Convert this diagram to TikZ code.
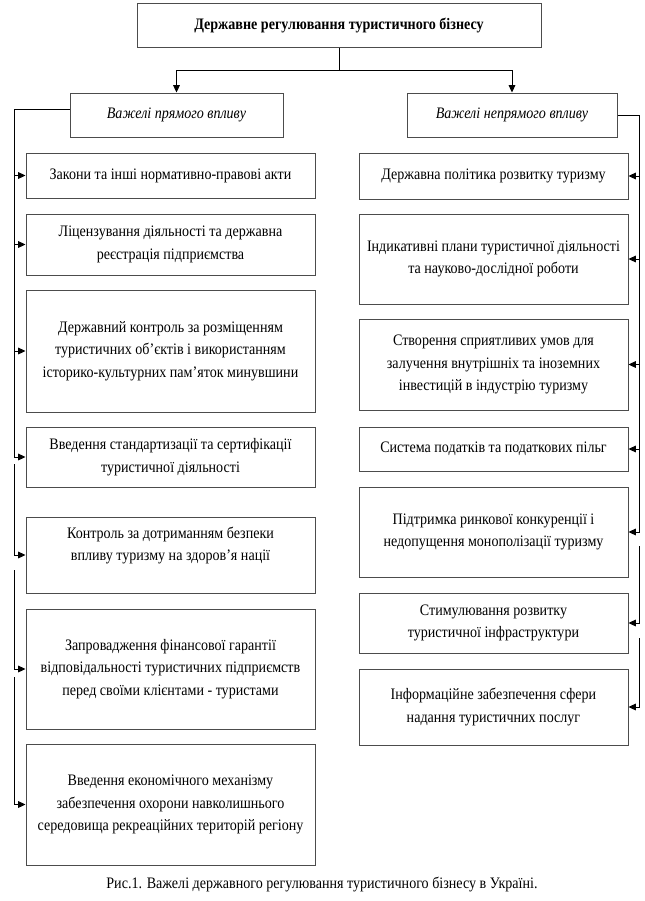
\documentclass[tikz,border=0pt]{standalone}
\usepackage{fontspec}
\setmainfont{Liberation Serif}[FakeStretch=0.88]
\usetikzlibrary{arrows.meta}
\newcommand\mybox[6]{%
  \node[box, minimum width={(#4-#2)*0.75pt}, minimum height={(#5-#3)*0.75pt}]
    (#1) at ({(#2+#4)/2},{(#3+#5)/2}) {#6};}
\begin{document}
\begin{tikzpicture}[x=0.75pt,y=-0.75pt,
  box/.style={draw=black!70, line width=0.75pt, align=center, inner sep=0pt,
    font=\fontsize{12pt}{16.9pt}\selectfont},
  conn/.style={line width=0.75pt, draw=black},
  arr/.style={conn, -{Triangle[length=5.5pt,width=5pt]}}]
\useasboundingbox (0,0) rectangle (645,901);
% top
\mybox{top}{137}{3}{541}{47}{\textbf{Державне регулювання туристичного бізнесу}}
\mybox{ls}{70}{93}{283}{137}{\textit{Важелі прямого впливу}}
\mybox{rs}{407}{93}{617}{137}{\textit{Важелі непрямого впливу}}
% left column
\mybox{b1}{26}{153}{315}{198}{Закони та інші нормативно-правові акти}
\mybox{b2}{26}{214}{315}{275}{Ліцензування діяльності та державна\\ реєстрація підприємства}
\mybox{b3}{26}{290}{315}{412}{Державний контроль за розміщенням\\ туристичних об’єктів і використанням\\ історико-культурних пам’яток минувшини}
\mybox{b4}{26}{427}{315}{487}{Введення стандартизації та сертифікації\\ туристичної діяльності}
\mybox{b5}{26}{517}{315}{593}{Контроль за дотриманням безпеки\\ впливу туризму на здоров’я нації\\ \mbox{}}
\mybox{b6}{26}{609}{315}{729}{Запровадження фінансової гарантії\\ відповідальності туристичних підприємств\\ перед своїми клієнтами - туристами}
\mybox{b7}{26}{744}{315}{865}{Введення економічного механізму\\ забезпечення охорони навколишнього\\ середовища рекреаційних територій регіону}
% right column
\mybox{r1}{359}{153}{628}{199}{Державна політика розвитку туризму}
\mybox{r2}{359}{214}{628}{304}{Індикативні плани туристичної діяльності\\ та науково-дослідної роботи}
\mybox{r3}{359}{319}{628}{410}{Створення сприятливих умов для\\ залучення внутрішніх та іноземних\\ інвестицій в індустрію туризму}
\mybox{r4}{359}{427}{628}{471}{Система податків та податкових пільг}
\mybox{r5}{359}{487}{628}{577}{Підтримка ринкової конкуренції і\\ недопущення монополізації туризму}
\mybox{r6}{359}{593}{628}{653}{Стимулювання розвитку\\ туристичної інфраструктури}
\mybox{r7}{359}{669}{628}{745}{Інформаційне забезпечення сфери\\ надання туристичних послуг}
% caption
\node[font=\fontsize{12pt}{16.9pt}\selectfont] (cap) at (322,884)
  {Рис.1. Важелі державного регулювання туристичного бізнесу в Україні.};
% top connectors
\coordinate (br) at (top.south |- 0,70);
\draw[conn] (top.south) -- (br);
\draw[arr] (br) -| (ls.north);
\draw[arr] (br) -| (rs.north);
% left trunk
\coordinate (lt0) at (14,109);
\coordinate (lt1) at (14,464);
\coordinate (lt2) at (14,570);
\coordinate (lt3) at (14,677);
\draw[conn] (lt0 -| ls.west) -- (lt0);
\draw[arr] (lt0) |- (b1.west);
\draw[arr] (lt0) |- (b2.west);
\draw[arr] (lt0) |- (b3.west);
\draw[arr] (lt0) |- (b4.west);
\draw[arr] (lt1) |- (b5.west);
\draw[arr] (lt2) |- (b6.west);
\draw[arr] (lt3) |- (b7.west);
% right trunk
\coordinate (rt0) at (639,115);
\coordinate (rt1) at (639,546);
\coordinate (rt2) at (639,638);
\draw[conn] (rs.east) -- (rt0);
\draw[arr] (rt0) |- (r1.east);
\draw[arr] (rt0) |- (r2.east);
\draw[arr] (rt0) |- (r3.east);
\draw[arr] (rt0) |- (r4.east);
\draw[arr] (rt0) |- (r5.east);
\draw[arr] (rt1) |- (r6.east);
\draw[arr] (rt2) |- (r7.east);
\end{tikzpicture}
\end{document}
